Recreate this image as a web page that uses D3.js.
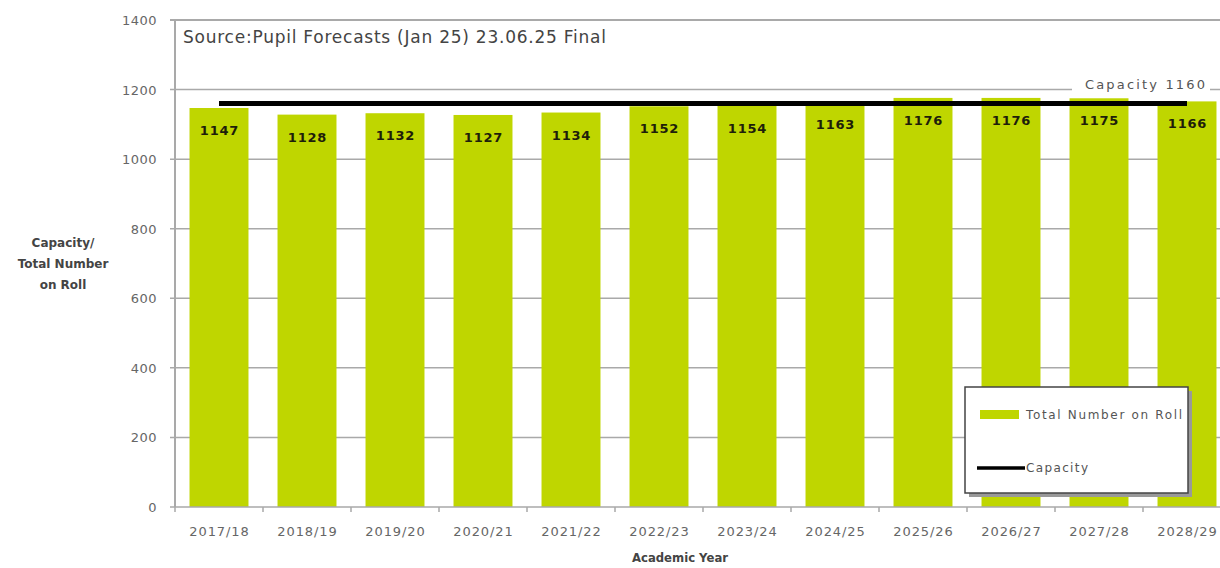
<!DOCTYPE html>
<html>
<head>
<meta charset="utf-8">
<script src="https://cdn.jsdelivr.net/npm/d3@7"></script>
<style>
  html, body { margin: 0; padding: 0; background: #fff; }
  svg { display: block; font-family: "DejaVu Sans", "Open Sans", sans-serif; }
</style>
</head>
<body>
<svg id="chart" width="1220" height="568"></svg>
<script>
// Academic years shown along the x axis
const years = ["2017/18", "2018/19", "2019/20", "2020/21", "2021/22", "2022/23",
               "2023/24", "2024/25", "2025/26", "2026/27", "2027/28", "2028/29"];
// Total number on roll per year
const totalOnRoll = [1147, 1128, 1132, 1127, 1134, 1152, 1154, 1163, 1176, 1176, 1175, 1166];
// School capacity (constant)
const capacity = 1160;
// Y axis tick values
const yTicks = [0, 200, 400, 600, 800, 1000, 1200, 1400];

const svg = d3.select("#chart");
const plot = { left: 175, right: 1231, top: 20, bottom: 507 };

const x = d3.scaleBand()
  .domain(years)
  .range([plot.left, plot.right])
  .paddingInner(0.33)
  .paddingOuter(0.165);

const y = d3.scaleLinear()
  .domain([0, 1400])
  .range([plot.bottom, plot.top]);

const green = "#bfd600";
const grey = "#a9a9a9";
const rows = years.map((yr, i) => ({ yr, v: totalOnRoll[i] }));

// Horizontal gridlines with short ticks left of the axis
svg.append("g")
  .selectAll("line")
  .data(yTicks.filter(d => d > 0))
  .join("line")
  .attr("x1", plot.left - 5)
  .attr("x2", 1220)
  .attr("y1", d => y(d))
  .attr("y2", d => y(d))
  .attr("stroke", grey)
  .attr("stroke-width", 1.5);

// Y axis tick labels
svg.append("g")
  .selectAll("text")
  .data(yTicks)
  .join("text")
  .attr("x", 157)
  .attr("y", d => y(d) + 5)
  .attr("text-anchor", "end")
  .attr("font-size", 13)
  .attr("letter-spacing", 0.5)
  .attr("fill", "#666")
  .text(d => d);

// Bars
svg.append("g")
  .selectAll("rect")
  .data(rows)
  .join("rect")
  .attr("x", d => x(d.yr))
  .attr("width", x.bandwidth())
  .attr("y", d => y(d.v))
  .attr("height", d => y(0) - y(d.v))
  .attr("fill", green);

// Value labels inside the bar tops
svg.append("g")
  .selectAll("text")
  .data(rows)
  .join("text")
  .attr("x", d => x(d.yr) + x.bandwidth() / 2 + 0.5)
  .attr("y", d => y(d.v) + 27)
  .attr("text-anchor", "middle")
  .attr("font-size", 13)
  .attr("font-weight", "bold")
  .attr("letter-spacing", 0.8)
  .attr("fill", "#1e1e0a")
  .text(d => d.v);

// Capacity label sitting over the 1200 gridline
const capLabel = svg.append("g");
capLabel.append("rect")
  .attr("x", 1072).attr("y", y(1200) - 13)
  .attr("width", 138).attr("height", 17)
  .attr("fill", "#fff");
capLabel.append("text")
  .attr("x", 1085)
  .attr("y", y(1200) - 1)
  .attr("font-size", 13)
  .attr("textLength", 120)
  .attr("lengthAdjust", "spacing")
  .attr("fill", "#555")
  .text("Capacity " + capacity);

// Capacity line across the bar centres
svg.append("line")
  .attr("x1", x(years[0]) + x.bandwidth() / 2)
  .attr("x2", x(years[years.length - 1]) + x.bandwidth() / 2)
  .attr("y1", y(capacity))
  .attr("y2", y(capacity))
  .attr("stroke", "#000")
  .attr("stroke-width", 5);

// Plot frame: left axis, top border, baseline
svg.append("line")
  .attr("x1", plot.left).attr("x2", plot.left)
  .attr("y1", plot.top).attr("y2", plot.bottom)
  .attr("stroke", grey).attr("stroke-width", 2);
svg.append("line")
  .attr("x1", plot.left - 5).attr("x2", 1220)
  .attr("y1", plot.top).attr("y2", plot.top)
  .attr("stroke", grey).attr("stroke-width", 2);
svg.append("line")
  .attr("x1", plot.left - 5).attr("x2", 1220)
  .attr("y1", plot.bottom).attr("y2", plot.bottom)
  .attr("stroke", grey).attr("stroke-width", 1.5);

// X tick marks at category boundaries
svg.append("g")
  .selectAll("line")
  .data(years)
  .join("line")
  .attr("x1", d => x(d) - x.step() * x.paddingInner() / 2)
  .attr("x2", d => x(d) - x.step() * x.paddingInner() / 2)
  .attr("y1", plot.bottom)
  .attr("y2", plot.bottom + 5)
  .attr("stroke", grey)
  .attr("stroke-width", 1.5);

// X tick labels
svg.append("g")
  .selectAll("text")
  .data(years)
  .join("text")
  .attr("x", d => x(d) + x.bandwidth() / 2 + 0.5)
  .attr("y", 536)
  .attr("text-anchor", "middle")
  .attr("font-size", 13)
  .attr("letter-spacing", 0.9)
  .attr("fill", "#666")
  .text(d => d);

// Source note
svg.append("text")
  .attr("x", 183)
  .attr("y", 43)
  .attr("font-size", 17)
  .attr("textLength", 423)
  .attr("lengthAdjust", "spacing")
  .attr("fill", "#444")
  .text("Source:Pupil Forecasts (Jan 25) 23.06.25 Final");

// Axis titles
["Capacity/", "Total Number", "on Roll"].forEach((t, i) => {
  svg.append("text")
    .attr("x", 63)
    .attr("y", 247 + i * 21)
    .attr("text-anchor", "middle")
    .attr("font-size", 12)
    .attr("font-weight", "bold")
    .attr("fill", "#444")
    .text(t);
});
svg.append("text")
  .attr("x", 632)
  .attr("y", 562)
  .attr("font-size", 12)
  .attr("font-weight", "bold")
  .attr("textLength", 96)
  .attr("lengthAdjust", "spacingAndGlyphs")
  .attr("fill", "#444")
  .text("Academic Year");

// Legend box with drop shadow
const lg = svg.append("g");
lg.append("rect")
  .attr("x", 969).attr("y", 391)
  .attr("width", 223).attr("height", 106)
  .attr("fill", "#999");
lg.append("rect")
  .attr("x", 965).attr("y", 387)
  .attr("width", 223).attr("height", 106)
  .attr("fill", "#fff")
  .attr("stroke", "#444")
  .attr("stroke-width", 1.5);
lg.append("rect")
  .attr("x", 980).attr("y", 410)
  .attr("width", 39).attr("height", 9)
  .attr("fill", green);
lg.append("text")
  .attr("x", 1026).attr("y", 419)
  .attr("font-size", 12)
  .attr("textLength", 156)
  .attr("lengthAdjust", "spacing")
  .attr("fill", "#555")
  .text("Total Number on Roll");
lg.append("line")
  .attr("x1", 977).attr("x2", 1025)
  .attr("y1", 468).attr("y2", 468)
  .attr("stroke", "#000").attr("stroke-width", 3.5);
lg.append("text")
  .attr("x", 1026).attr("y", 472)
  .attr("font-size", 12)
  .attr("textLength", 62)
  .attr("lengthAdjust", "spacing")
  .attr("fill", "#555")
  .text("Capacity");
</script>
</body>
</html>
